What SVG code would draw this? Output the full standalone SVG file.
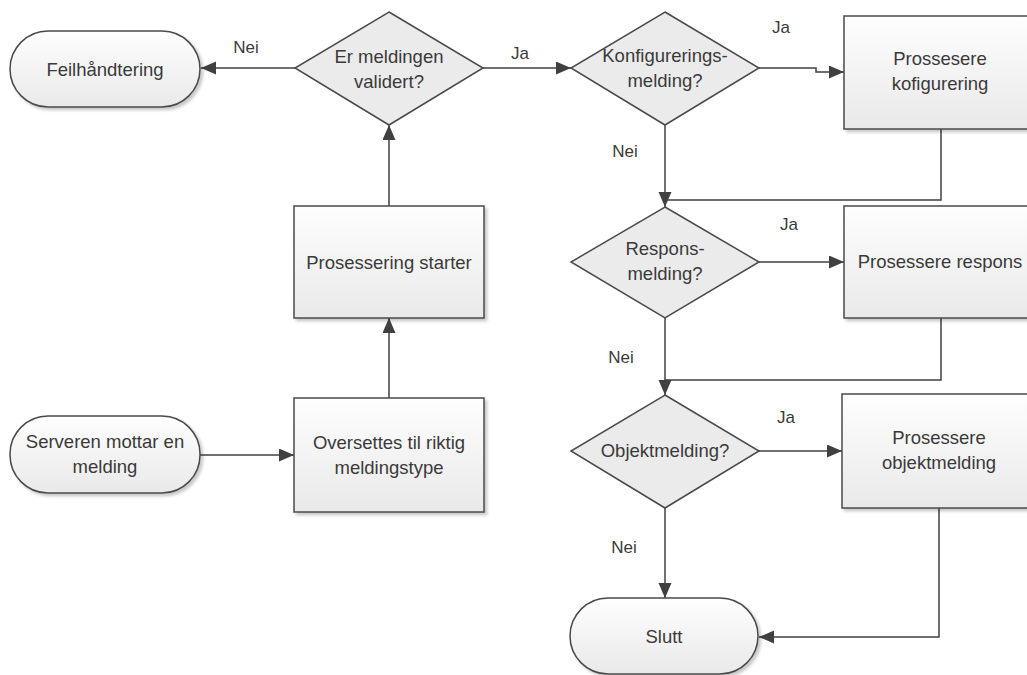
<svg xmlns="http://www.w3.org/2000/svg" width="1027" height="675" viewBox="0 0 1027 675">
<style>
.shape{stroke:#4a4a4a;stroke-width:1.5;fill:url(#g);filter:url(#sh)}
.dia{stroke:#4a4a4a;stroke-width:1.5;fill:#ebebeb}
.t{font-family:"Liberation Sans",Arial,sans-serif;font-size:18.5px;fill:#3a3a3a;text-anchor:middle}
.lbl{font-family:"Liberation Sans",Arial,sans-serif;font-size:17px;fill:#3a3a3a;text-anchor:middle}
.c{fill:none;stroke:#404040;stroke-width:1.5}
.a{marker-end:url(#arr)}
</style>
<defs>
<linearGradient id="g" x1="0" y1="0" x2="0" y2="1">
<stop offset="0" stop-color="#fefefe"/>
<stop offset="1" stop-color="#e9e9e9"/>
</linearGradient>
<filter id="sh" x="-10%" y="-10%" width="125%" height="130%">
<feDropShadow dx="2.5" dy="2.5" stdDeviation="1.5" flood-color="#000" flood-opacity="0.22"/>
</filter>
<marker id="arr" markerUnits="userSpaceOnUse" markerWidth="16" markerHeight="14" refX="15" refY="6.5" orient="auto">
<path d="M0,0 L15,6.5 L0,13 Z" fill="#404040"/>
</marker>
</defs>
<rect width="1027" height="675" fill="#fff"/>

<g id="connectors">
<path class="c a" d="M295,68 H201"/>
<text class="lbl" x="246" y="53">Nei</text>
<path class="c a" d="M483,68 H571"/>
<text class="lbl" x="520" y="59">Ja</text>
<path class="c a" d="M759,68 H816 V72 H844"/>
<text class="lbl" x="781" y="33">Ja</text>
<path class="c a" d="M665,125 V207"/>
<text class="lbl" x="625" y="157">Nei</text>
<path class="c" d="M941,129 V200 H665"/>
<path class="c a" d="M759,262 H844"/>
<text class="lbl" x="789" y="230">Ja</text>
<path class="c a" d="M665,318 V395"/>
<text class="lbl" x="621" y="363">Nei</text>
<path class="c" d="M941,318 V380 H665"/>
<path class="c a" d="M759,451 H842"/>
<text class="lbl" x="786" y="423">Ja</text>
<path class="c a" d="M665,508 V598"/>
<text class="lbl" x="624" y="553">Nei</text>
<path class="c a" d="M939,508 V637 H759"/>
<path class="c a" d="M389,206 V125"/>
<path class="c a" d="M389,398 V318"/>
<path class="c a" d="M200,455 H294"/>
</g>

<g id="feilhandtering">
<rect class="shape" x="10" y="31" width="190" height="76" rx="38" ry="38"/>
<text class="t" x="105" y="76">Feilhåndtering</text>
</g>
<g id="er-meldingen-validert">
<polygon class="dia" points="389,12 483,68 389,125 295,68"/>
<text class="t" x="389" y="63">Er meldingen</text>
<text class="t" x="389" y="88">validert?</text>
</g>
<g id="konfigureringsmelding">
<polygon class="dia" points="665,12 759,68 665,125 571,68"/>
<text class="t" x="665" y="62">Konfigurerings-</text>
<text class="t" x="665" y="87">melding?</text>
</g>
<g id="prossesere-kofigurering">
<rect class="shape" x="844" y="16" width="190" height="113"/>
<text class="t" x="940" y="65">Prossesere</text>
<text class="t" x="940" y="90">kofigurering</text>
</g>
<g id="responsmelding">
<polygon class="dia" points="665,207 759,262 665,318 571,262"/>
<text class="t" x="665" y="255">Respons-</text>
<text class="t" x="665" y="280">melding?</text>
</g>
<g id="prosessere-respons">
<rect class="shape" x="844" y="206" width="190" height="112"/>
<text class="t" x="940" y="268">Prosessere respons</text>
</g>
<g id="objektmelding">
<polygon class="dia" points="665,395 759,451 665,508 571,451"/>
<text class="t" x="665" y="457">Objektmelding?</text>
</g>
<g id="prosessere-objektmelding">
<rect class="shape" x="842" y="394" width="190" height="114"/>
<text class="t" x="939" y="444">Prosessere</text>
<text class="t" x="939" y="469">objektmelding</text>
</g>
<g id="slutt">
<rect class="shape" x="570" y="598" width="188" height="76" rx="38" ry="38"/>
<text class="t" x="664" y="643">Slutt</text>
</g>
<g id="prosessering-starter">
<rect class="shape" x="294" y="206" width="190" height="112"/>
<text class="t" x="389" y="269">Prosessering starter</text>
</g>
<g id="oversettes">
<rect class="shape" x="294" y="398" width="190" height="114"/>
<text class="t" x="389" y="449">Oversettes til riktig</text>
<text class="t" x="389" y="474">meldingstype</text>
</g>
<g id="serveren-mottar">
<rect class="shape" x="10" y="416" width="190" height="77" rx="38" ry="38"/>
<text class="t" x="105" y="448">Serveren mottar en</text>
<text class="t" x="105" y="473">melding</text>
</g>
</svg>
